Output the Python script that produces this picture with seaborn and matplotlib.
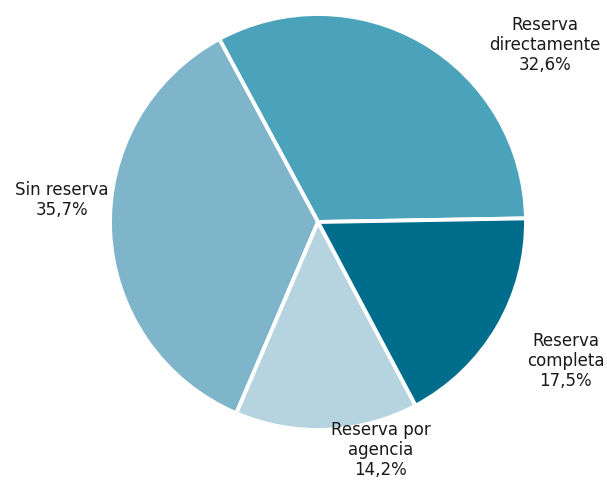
import matplotlib
matplotlib.use('Agg')
import matplotlib.pyplot as plt
import seaborn as sns

# Datos del gráfico (porcentajes)
categorias = ['Reserva\ndirectamente', 'Sin reserva', 'Reserva por\nagencia', 'Reserva\ncompleta']
valores = [32.6, 35.7, 14.2, 17.5]
etiquetas_pct = ['32,6%', '35,7%', '14,2%', '17,5%']
colores = ['#4ba3bb', '#7fb5cb', '#b6d4df', '#006d8c']

# Posición de cada etiqueta (unidades del radio)
pos_etiquetas = [(1.09, 0.85), (-1.23, 0.105), (0.30, -1.095), (1.19, -0.67)]

sns.set_theme(style='white')
plt.rcParams['font.family'] = ['DejaVu Sans']

fig = plt.figure(figsize=(6.07, 4.82), dpi=100)
ax = fig.add_axes([0, 0, 1, 1])

ax.pie(valores, colors=colores, startangle=1, counterclock=True,
       wedgeprops=dict(edgecolor='white', linewidth=2.8))

for cat, pct, (x, y) in zip(categorias, etiquetas_pct, pos_etiquetas):
    ax.text(x, y, f'{cat}\n{pct}', ha='center', va='center',
            fontsize=12, color='#1a1a1a', linespacing=1.15)

ax.set_xlim(-318 / 208, (607 - 318) / 208)
ax.set_ylim(-(482 - 222) / 208, 222 / 208)
ax.set_aspect('equal')
ax.axis('off')

fig.savefig('out.png', dpi=100)
plt.close(fig)
